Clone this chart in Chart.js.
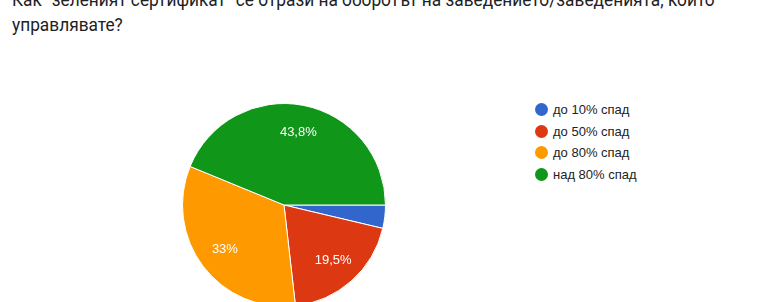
<!DOCTYPE html>
<html>
<head>
<meta charset="utf-8">
<script src="https://cdn.jsdelivr.net/npm/chart.js@4/dist/chart.umd.min.js"></script>
<style>
  html, body { margin: 0; padding: 0; background: #fff; }
  body { width: 768px; height: 302px; overflow: hidden; position: relative; }
  .title {
    position: absolute; left: 12px; top: -12px;
    font-family: Roboto, Arial, sans-serif; font-size: 19px; line-height: 24.5px;
    color: #202124; white-space: nowrap;
    transform: scaleX(0.91); transform-origin: left top;
  }
  #pieBox { position: absolute; left: 182px; top: 103px; width: 204px; height: 204px; }
  .legend { position: absolute; left: 535px; top: 99px; font-family: Arial, "Liberation Sans", sans-serif; font-size: 13px; color: #222; }
  .legend div { height: 21.5px; line-height: 21.5px; white-space: nowrap; }
  .legend span { display: inline-block; width: 13px; height: 13px; border-radius: 50%; vertical-align: -2px; margin-right: 5px; }
</style>
</head>
<body>
<div class="title">Как "зеленият сертификат" се отрази на оборотът на заведението/заведенията, които<br>управлявате?</div>
<div id="pieBox"><canvas id="myChart" width="204" height="204"></canvas></div>
<div class="legend" id="legend"></div>
<script>
var labels = ['до 10% спад', 'до 50% спад', 'до 80% спад', 'над 80% спад'];
var values = [3.7, 19.5, 33, 43.8];
var shownLabels = ['3,7%', '19,5%', '33%', '43,8%'];
var colors = ['#3366cc', '#dc3912', '#ff9900', '#109618'];

// legend
var leg = document.getElementById('legend');
labels.forEach(function (l, i) {
  var row = document.createElement('div');
  row.innerHTML = '<span style="background:' + colors[i] + '"></span>' + l;
  leg.appendChild(row);
});

// percent text inside slices
var sliceText = {
  id: 'sliceText',
  afterDatasetsDraw: function (chart) {
    var ctx = chart.ctx;
    var meta = chart.getDatasetMeta(0);
    ctx.save();
    ctx.font = '13px Arial, "Liberation Sans", sans-serif';
    ctx.fillStyle = '#fff';
    ctx.textAlign = 'center';
    ctx.textBaseline = 'middle';
    meta.data.forEach(function (arc, i) {
      if (values[i] < 5) return; // too small for a label
      var p = arc.getProps(['x', 'y', 'startAngle', 'endAngle', 'outerRadius'], true);
      var mid = (p.startAngle + p.endAngle) / 2;
      var r = p.outerRadius * 0.73;
      ctx.fillText(shownLabels[i], p.x + Math.cos(mid) * r, p.y + Math.sin(mid) * r);
    });
    ctx.restore();
  }
};

var ctx = document.getElementById('myChart').getContext('2d');
var myPieChart = new Chart(ctx, {
  type: 'pie',
  data: {
    labels: labels,
    datasets: [{
      data: values,
      backgroundColor: colors,
      borderColor: '#fff',
      borderWidth: 1
    }]
  },
  options: {
    responsive: false,
    animation: false,
    devicePixelRatio: 1,
    rotation: 90,
    layout: { padding: 0 },
    plugins: {
      legend: { display: false },
      tooltip: { enabled: false }
    }
  },
  plugins: [sliceText]
});
</script>
</body>
</html>
